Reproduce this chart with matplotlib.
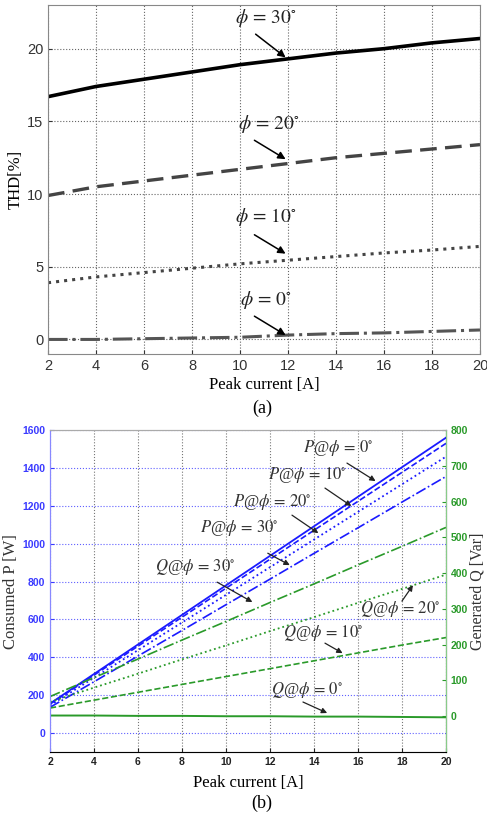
import numpy as np
import matplotlib
matplotlib.use('Agg')
import matplotlib.pyplot as plt

plt.rcParams['mathtext.fontset'] = 'stix'

# ---- data ----
current = [2, 4, 6, 8, 10, 12, 14, 16, 18, 20]

thd_30 = [16.7, 17.4, 17.9, 18.4, 18.9, 19.3, 19.7, 20.0, 20.4, 20.7]
thd_20 = [9.9, 10.5, 10.9, 11.3, 11.7, 12.1, 12.5, 12.8, 13.1, 13.4]
thd_10 = [3.9, 4.3, 4.6, 4.9, 5.2, 5.45, 5.7, 5.95, 6.15, 6.4]
thd_0 = [0.0, 0.0, 0.05, 0.1, 0.15, 0.3, 0.4, 0.45, 0.55, 0.65]

p_0 = [156, 312, 468, 624, 780, 936, 1092, 1248, 1404, 1560]
p_10 = [153, 306, 459, 612, 765, 918, 1071, 1224, 1377, 1530]
p_20 = [146, 292, 438, 584, 730, 876, 1022, 1168, 1314, 1460]
p_30 = [136, 271, 407, 542, 678, 813, 949, 1084, 1220, 1355]

q_30 = [55, 108, 160, 213, 265, 318, 370, 423, 475, 528]
q_20 = [40, 80, 119, 159, 198, 238, 277, 317, 356, 396]
q_10 = [23, 45, 67, 89, 111, 133, 155, 177, 199, 220]
q_0 = [2, 2, 1, 1, 0, 0, -1, -1, -2, -3]

serif = 'Liberation Serif'
sans = 'Liberation Sans'

fig = plt.figure(figsize=(4.87, 8.19), dpi=100)

# ---------------- (a) THD ----------------
ax1 = fig.add_axes([0.0986, 0.5678, 0.887, 0.426])
ax1.plot(current, thd_30, '-', color='black', lw=2.6)
ax1.plot(current, thd_20, '--', color='#444444', lw=2.4, dashes=(5, 2.5))
ax1.plot(current, thd_10, ':', color='#444444', lw=2.2)
ax1.plot(current, thd_0, '-.', color='#555555', lw=2.2)
ax1.set_xlim(2, 20)
ax1.set_ylim(-1, 23)
ax1.set_xticks(range(2, 21, 2))
ax1.set_yticks([0, 5, 10, 15, 20])
ax1.grid(True, linestyle=':', color='#666666', lw=0.8)
for s in ax1.spines.values():
    s.set_color('#888888')
ax1.tick_params(direction='in', labelsize=10.5, colors='#333333', length=3)
for lab in ax1.get_xticklabels() + ax1.get_yticklabels():
    lab.set_fontfamily(sans)
ax1.set_xlabel('Peak current [A]', family=serif, fontsize=12, labelpad=3)
ax1.set_ylabel('THD[%]', family=serif, fontsize=12, labelpad=2)

arr = dict(arrowstyle='-|>', color='black', lw=1.1, mutation_scale=11,
           shrinkA=0, shrinkB=0)
top_notes = [
    (r'$\phi\,=\,30^{\circ}$', (11.1, 22.1), (10.65, 21.0), (11.9, 19.4)),
    (r'$\phi\,=\,20^{\circ}$', (11.2, 14.8), (10.6, 13.7), (11.9, 12.4)),
    (r'$\phi\,=\,10^{\circ}$', (11.1, 8.4), (10.6, 7.2), (11.9, 5.9)),
    (r'$\phi\,=\,0^{\circ}$', (11.1, 2.7), (10.6, 1.6), (11.9, 0.3)),
]
for txt, pos, tail, tip in top_notes:
    ax1.text(pos[0], pos[1], txt, ha='center', va='center', fontsize=14,
             color='#222222')
    ax1.annotate('', xy=tip, xytext=tail, arrowprops=arr)

fig.text(0.538, 1 - 408 / 819, '(a)', family=serif, fontsize=13,
         ha='center', va='center')

# ---------------- (b) P and Q ----------------
blue = '#1a1aff'
green = '#2a9a2a'
ax2 = fig.add_axes([0.1027, 0.0818, 0.813, 0.393])
ax2.plot(current, p_0, '-', color=blue, lw=1.3)
ax2.plot(current, p_10, '--', color=blue, lw=1.2)
ax2.plot(current, p_20, ':', color=blue, lw=1.3)
ax2.plot(current, p_30, '-.', color=blue, lw=1.2)
ax2.set_xlim(2, 20)
ax2.set_ylim(-100, 1600)
ax2.set_xticks(range(2, 21, 2))
ax2.set_yticks(range(0, 1601, 200))
ax2.xaxis.grid(True, linestyle=':', color='#777777', lw=0.8)
ax2.yaxis.grid(True, linestyle=':', color='#6060ff', lw=0.8)
ax2.tick_params(axis='y', colors='#3a3aff', labelsize=7.5, direction='in', length=3)
ax2.tick_params(axis='x', colors='#222222', labelsize=7.5, direction='in', length=3)
for lab in ax2.get_xticklabels() + ax2.get_yticklabels():
    lab.set_fontfamily(sans)
    lab.set_fontweight('bold')
ax2.spines['left'].set_color('#8888ff')
ax2.spines['top'].set_color('#aaaaaa')
ax2.spines['bottom'].set_color('#aaaaaa')
ax2.set_xlabel('Peak current [A]', family=serif, fontsize=12, labelpad=6)
ax2.set_ylabel('Consumed P [W]', family=serif, fontsize=12, color='#333333',
               labelpad=2)

ax3 = ax2.twinx()
ax3.plot(current, q_30, '-.', color=green, lw=1.2)
ax3.plot(current, q_20, ':', color=green, lw=1.3)
ax3.plot(current, q_10, '--', color=green, lw=1.2)
ax3.plot(current, q_0, '-', color=green, lw=1.4)
ax3.set_ylim(-100, 800)
ax3.set_yticks(range(0, 801, 100))
ax3.tick_params(axis='y', colors=green, labelsize=7.5, direction='in', length=3)
for lab in ax3.get_yticklabels():
    lab.set_fontfamily(sans)
    lab.set_fontweight('bold')
ax3.spines['right'].set_color('#88cc88')
ax3.spines['left'].set_color('#8888ff')
ax3.spines['top'].set_color('#aaaaaa')
ax3.set_ylabel('Generated Q [Var]', family=serif, fontsize=11.5, color='#333333',
               labelpad=1)

arr2 = dict(arrowstyle='-|>', color='#222222', lw=0.9, mutation_scale=8,
            shrinkA=0, shrinkB=0)
# label text, text position, arrow tail, arrow tip (left-axis data units)
notes = [
    (r'$P$@$\phi\,=\,0^{\circ}$', (15.1, 1505), (15.5, 1426), (16.8, 1331)),
    (r'$P$@$\phi\,=\,10^{\circ}$', (13.7, 1362), (14.5, 1294), (15.7, 1199)),
    (r'$P$@$\phi\,=\,20^{\circ}$', (12.1, 1220), (13.0, 1151), (14.2, 1056)),
    (r'$P$@$\phi\,=\,30^{\circ}$', (10.6, 1082), (11.9, 950), (12.9, 887)),
    (r'$Q$@$\phi\,=\,30^{\circ}$', (8.6, 876), (9.6, 797), (11.2, 692)),
    (r'$Q$@$\phi\,=\,20^{\circ}$', (17.9, 655), (18.0, 697), (18.5, 781)),
    (r'$Q$@$\phi\,=\,10^{\circ}$', (14.4, 528), (14.5, 475), (15.3, 422)),
    (r'$Q$@$\phi\,=\,0^{\circ}$', (13.7, 227), (13.5, 164), (14.6, 106)),
]
for txt, pos, tail, tip in notes:
    ax3.text(pos[0], pos[1], txt, transform=ax2.transData, ha='center',
             va='center', fontsize=12, family=serif, color='#333333')
    ax3.annotate('', xy=tip, xytext=tail, xycoords=ax2.transData,
                 textcoords=ax2.transData, arrowprops=arr2)

fig.text(0.538, 1 - 803 / 819, '(b)', family=serif, fontsize=13,
         ha='center', va='center')

fig.savefig('out.png', dpi=100)
